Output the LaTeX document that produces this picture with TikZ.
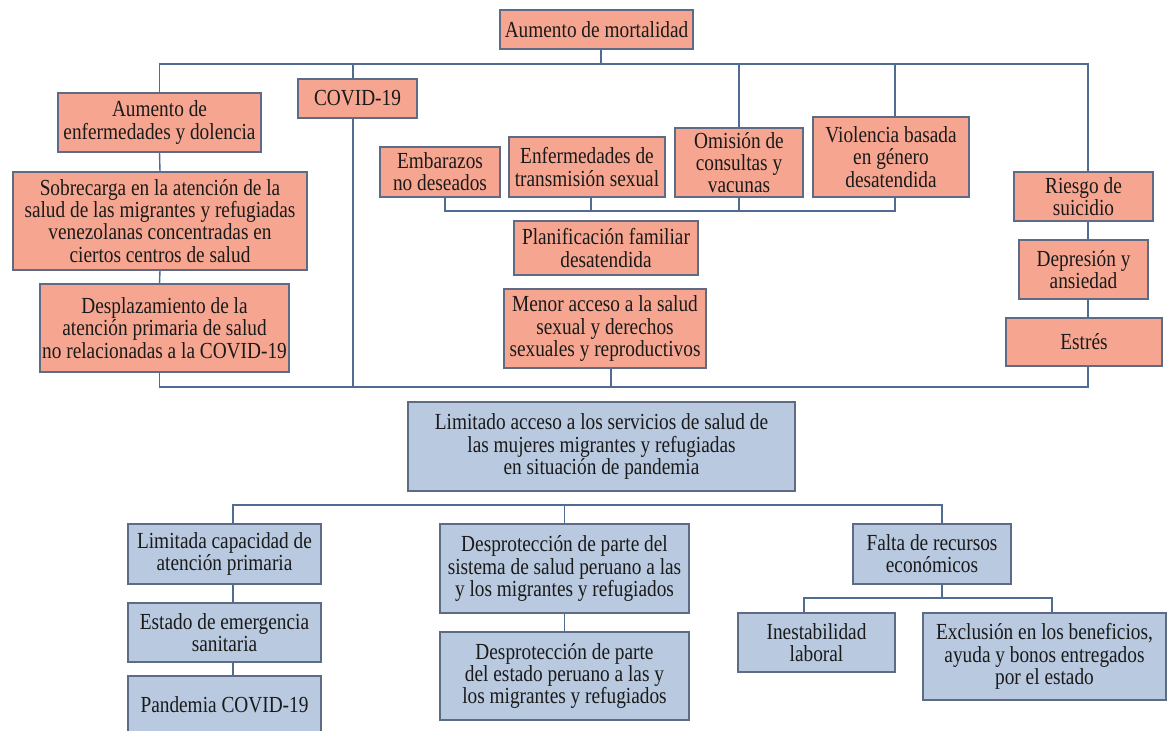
\documentclass[tikz,border=0pt]{standalone}
\usepackage{fontspec}
\setmainfont{Liberation Serif}[FakeStretch=0.84]
\definecolor{salmon}{HTML}{F6A690}
\definecolor{bluef}{HTML}{B9C9DF}
\definecolor{bordc}{HTML}{5E6B85}
\definecolor{linec}{HTML}{506C93}
\definecolor{txt}{HTML}{1A1A1A}
\begin{document}
\begin{tikzpicture}[x=1pt,y=-1pt,
  box/.style={draw=bordc, line width=1.3pt, inner sep=0pt, align=center, text=txt,
    font=\fontsize{23}{22.2}\selectfont},
  obox/.style={box, fill=salmon},
  bbox/.style={box, fill=bluef},
  conn/.style={draw=linec, line width=1.4pt}]
\useasboundingbox[fill=white] (0,0) rectangle (1168,731);

% bus levels
\coordinate (tb) at (0,64);
\coordinate (mb) at (0,211);
\coordinate (bb) at (0,387);
\coordinate (lb) at (0,505);
\coordinate (fb) at (0,598);

% orange nodes
\node[obox, minimum width=193pt, minimum height=39pt] (top) at (596.5,29.5) {Aumento de mortalidad};
\node[obox, minimum width=203pt, minimum height=59pt] (aum) at (159.5,122.5) {Aumento de\\enfermedades y dolencia};
\node[obox, minimum width=294pt, minimum height=98pt] (sobre) at (160,221) {Sobrecarga en la atención de la\\salud de las migrantes y refugiadas\\venezolanas concentradas en\\ciertos centros de salud};
\node[obox, minimum width=249pt, minimum height=88pt] (despl) at (164.5,328) {Desplazamiento de la\\atención primaria de salud\\no relacionadas a la COVID-19};
\node[obox, minimum width=119pt, minimum height=39pt] (covid) at (357.5,98.5) {COVID-19};
\node[obox, minimum width=120pt, minimum height=50pt] (emb) at (440,172) {Embarazos\\no deseados};
\node[obox, minimum width=156pt, minimum height=60pt] (enf) at (587,167) {Enfermedades de\\transmisión sexual};
\node[obox, minimum width=128pt, minimum height=69pt] (omi) at (739,162.5) {Omisión de\\consultas y\\vacunas};
\node[obox, minimum width=156pt, minimum height=80pt] (vio) at (891,157) {Violencia basada\\en género\\desatendida};
\node[obox, minimum width=184pt, minimum height=54pt] (plan) at (606,248) {Planificación familiar\\desatendida};
\node[obox, minimum width=202pt, minimum height=79pt] (menor) at (605,328.5) {Menor acceso a la salud\\sexual y derechos\\sexuales y reproductivos};
\node[obox, minimum width=139pt, minimum height=49pt] (riesgo) at (1083.5,196.5) {Riesgo de\\suicidio};
\node[obox, minimum width=129pt, minimum height=59pt] (depre) at (1083.5,269.5) {Depresión y\\ansiedad};
\node[obox, minimum width=156pt, minimum height=48pt] (estres) at (1084,342) {Estrés};

% blue nodes
\node[bbox, minimum width=387pt, minimum height=89pt] (lim) at (601.5,446.5) {Limitado acceso a los servicios de salud de\\las mujeres migrantes y refugiadas\\en situación de pandemia};
\node[bbox, minimum width=193pt, minimum height=60pt] (cap) at (224.5,554) {Limitada capacidad de\\atención primaria};
\node[bbox, minimum width=193pt, minimum height=59pt] (estado) at (224.5,632.5) {Estado de emergencia\\sanitaria};
\node[bbox, minimum width=193pt, minimum height=58pt] (pand) at (224.5,705) {Pandemia COVID-19};
\node[bbox, minimum width=249pt, minimum height=89pt] (desp1) at (564.5,568.5) {Desprotección de parte del\\sistema de salud peruano a las\\y los migrantes y refugiados};
\node[bbox, minimum width=249pt, minimum height=88pt] (desp2) at (564.5,676) {Desprotección de parte\\del estado peruano a las y\\los migrantes y refugiados};
\node[bbox, minimum width=158pt, minimum height=60pt] (falta) at (932,554) {Falta de recursos\\económicos};
\node[bbox, minimum width=157pt, minimum height=59pt] (inest) at (816.5,642.5) {Inestabilidad\\laboral};
\node[bbox, minimum width=243pt, minimum height=87pt] (excl) at (1044.5,656.5) {Exclusión en los beneficios,\\ayuda y bonos entregados\\por el estado};

% anchor points of connectors
\coordinate (topS) at ([xshift=4.5pt]top.south);
\coordinate (covN) at ([xshift=-4.5pt]covid.north);
\coordinate (covS) at ([xshift=-4.5pt]covid.south);
\coordinate (vioN) at ([xshift=4pt]vio.north);
\coordinate (vioS) at ([xshift=4pt]vio.south);
\coordinate (riN) at ([xshift=4.5pt]riesgo.north);
\coordinate (riS) at ([xshift=4.5pt]riesgo.south);
\coordinate (deN) at ([xshift=4.5pt]depre.north);
\coordinate (deS) at ([xshift=4.5pt]depre.south);
\coordinate (esN) at ([xshift=4pt]estres.north);
\coordinate (esS) at ([xshift=4pt]estres.south);
\coordinate (emS) at ([xshift=5pt]emb.south);
\coordinate (enS) at ([xshift=4pt]enf.south);
\coordinate (meS) at ([xshift=6pt]menor.south);
\coordinate (deplN) at (aum.south |- despl.north);
\coordinate (deplS) at (aum.south |- despl.south);
\coordinate (caN) at ([xshift=8.5pt]cap.north);
\coordinate (caS) at ([xshift=8.5pt]cap.south);
\coordinate (esdN) at ([xshift=8.5pt]estado.north);
\coordinate (esdS) at ([xshift=8.5pt]estado.south);
\coordinate (paN) at ([xshift=8.5pt]pand.north);
\coordinate (faN) at ([xshift=10pt]falta.north);
\coordinate (faS) at ([xshift=10pt]falta.south);
\coordinate (inN) at ([xshift=-12.5pt]inest.north);
\coordinate (exN) at ([xshift=7.5pt]excl.north);

% upper tree
\draw[conn] (aum.north) |- (riN |- tb) -- (riN);
\draw[conn] (topS) -- (topS |- tb);
\draw[conn] (covN |- tb) -- (covN);
\draw[conn] (omi.north |- tb) -- (omi.north);
\draw[conn] (vioN |- tb) -- (vioN);
\draw[conn] (aum.south) -- (sobre.north);
\draw[conn] (sobre.south) -- (deplN);
\draw[conn] (riS) -- (deN);
\draw[conn] (deS) -- (esN);
\draw[conn] (emS) |- (vioS |- mb) -- (vioS);
\draw[conn] (enS) -- (enS |- mb);
\draw[conn] (omi.south) -- (omi.south |- mb);
\draw[conn] (deplS) |- (esS |- bb) -- (esS);
\draw[conn] (covS) -- (covS |- bb);
\draw[conn] (meS) -- (meS |- bb);

% lower tree
\draw[conn] (caN) |- (faN |- lb) -- (faN);
\draw[conn] (desp1.north |- lb) -- (desp1.north);
\draw[conn] (caS) -- (esdN);
\draw[conn] (esdS) -- (paN);
\draw[conn] (desp1.south) -- (desp2.north);
\draw[conn] (faS) -- (faS |- fb);
\draw[conn] (inN) |- (exN |- fb) -- (exN);
\end{tikzpicture}
\end{document}
